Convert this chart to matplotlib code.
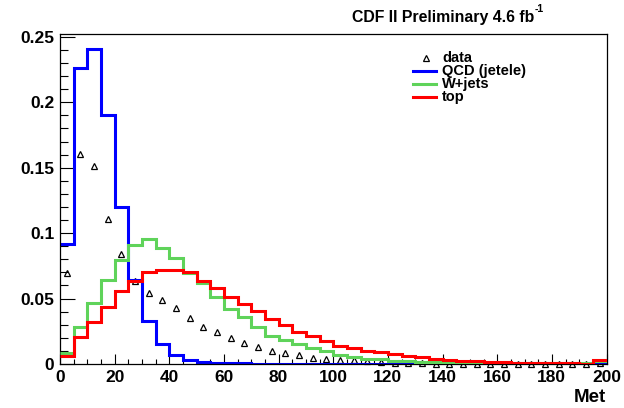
import matplotlib
matplotlib.use("Agg")
import matplotlib.pyplot as plt
import numpy as np
from matplotlib.lines import Line2D
from matplotlib.ticker import MultipleLocator

# 40 bins of width 5 GeV, 0..200
edges = np.arange(0, 205, 5)
centers = edges[:-1] + 2.5

qcd = [0.092, 0.226, 0.241, 0.190, 0.120, 0.064, 0.033, 0.0153, 0.0065, 0.0027,
       0.0013, 0.0008, 0.0005, 0.0004, 0.0003, 0.0003, 0.0002, 0.0002, 0.0002, 0.0002,
       0.0001, 0.0001, 0.0001, 0.0001, 0.0001, 0.0001, 0.0001, 0.0001, 0.0001, 0.0001,
       0.0001, 0.0001, 0.0001, 0.0001, 0.0001, 0.0001, 0.0001, 0.0001, 0.0001, 0.0005]

wjets = [0.0081, 0.0285, 0.0463, 0.0645, 0.0795, 0.0912, 0.0956, 0.0887, 0.081, 0.0693,
         0.0617, 0.0515, 0.042, 0.0357, 0.0285, 0.0216, 0.0183, 0.0150, 0.0125, 0.0097,
         0.0068, 0.0053, 0.0042, 0.0035, 0.0025, 0.0022, 0.0018, 0.0016, 0.0014, 0.0012,
         0.0011, 0.0010, 0.0009, 0.0005, 0.0005, 0.0005, 0.0005, 0.0005, 0.0004, 0.0022]

top = [0.0060, 0.0203, 0.0318, 0.0438, 0.0555, 0.0637, 0.0700, 0.0722, 0.0715, 0.0700,
       0.0635, 0.0584, 0.0510, 0.0458, 0.0405, 0.0344, 0.0300, 0.0246, 0.0216, 0.0178,
       0.0140, 0.0124, 0.0102, 0.0092, 0.0073, 0.0060, 0.0050, 0.0042, 0.0033, 0.0024,
       0.0021, 0.0014, 0.0013, 0.0006, 0.0006, 0.0006, 0.0006, 0.0006, 0.0001, 0.0034]

data = [0.0693, 0.1605, 0.1516, 0.1110, 0.0841, 0.0632, 0.0540, 0.0489, 0.0430, 0.0354,
        0.0280, 0.0242, 0.0201, 0.0158, 0.0132, 0.0102, 0.0081, 0.0071, 0.0046, 0.0035,
        0.0031, 0.0030, 0.0026, 0.0014, 0.0010, 0.0007, 0.0004, 0.0002, 0.0002, 0.0002,
        0.0002, 0.0002, 0.0002, 0.0002, 0.0002, 0.0002, 0.0002, 0.0002, 0.0002, 0.0004]

labels = ["data", "QCD (jetele)", "W+jets", "top"]
BLUE = "#0000ff"
GREEN = "#5fd35a"
RED = "#ff0000"

W, H = 624, 408
plt.rcParams["font.family"] = ["Liberation Sans", "DejaVu Sans"]
plt.rcParams["font.weight"] = "bold"

fig = plt.figure(figsize=(W / 100, H / 100), dpi=100)
ax = fig.add_axes([60 / W, 1 - 364 / H, 546.5 / W, 330 / H])

ax.plot(centers, data, ls="none", marker="^", ms=4.5, mew=0.9, mec="black",
        mfc="white", clip_on=False, zorder=1)
ax.stairs(qcd, edges, color=BLUE, lw=2.2, baseline=None, zorder=2)
ax.stairs(wjets, edges, color=GREEN, lw=2.2, baseline=None, zorder=3)
ax.stairs(top, edges, color=RED, lw=2.2, baseline=None, zorder=4)

ax.set_xlim(0, 200)
ax.set_ylim(0, 0.2522)
ax.xaxis.set_major_locator(MultipleLocator(20))
ax.xaxis.set_minor_locator(MultipleLocator(5))
ax.yaxis.set_major_locator(MultipleLocator(0.05))
ax.yaxis.set_minor_locator(MultipleLocator(0.01))
ax.yaxis.set_major_formatter(lambda v, p: "0" if v == 0 else f"{v:g}")
ax.tick_params(which="both", direction="in", top=False, right=False, width=0.8,
               labelsize=12.5)
ax.tick_params(axis="x", which="major", length=7.5, pad=4)
ax.tick_params(axis="x", which="minor", length=3.8)
ax.tick_params(axis="y", which="major", length=11, pad=4)
ax.tick_params(axis="y", which="minor", length=5.5)
for s in ax.spines.values():
    s.set_linewidth(0.9)

fig.text(606 / W, 1 - 398 / H, "Met", ha="right", va="center", fontsize=13.5)

# title with superscript placed right after the text
title = fig.text(352 / W, 1 - 22 / H, "CDF II Preliminary 4.6 fb", ha="left",
                 va="baseline", fontsize=11.4)
ax.annotate("-1", xy=(1, 0.72), xycoords=title, xytext=(0.5, 0),
            textcoords="offset points", ha="left", va="bottom", fontsize=7.5,
            annotation_clip=False)

# legend drawn by hand (rows packed tightly like the original)
base_y = [62.0, 75.0, 88.0, 101.0]
for i, lab in enumerate(labels):
    yb = base_y[i]
    yl = 1 - (yb - 4.5) / H
    if i == 0:
        fig.add_artist(Line2D([426 / W], [yl], ls="none", marker="^", ms=4,
                              mew=0.9, mec="black", mfc="white"))
    else:
        c = [BLUE, GREEN, RED][i - 1]
        fig.add_artist(Line2D([413 / W, 436 / W], [yl, yl], color=c, lw=2.2))
    fig.text(442 / W, 1 - yb / H, lab, ha="left", va="baseline", fontsize=10.5)

fig.savefig("out.png", dpi=100)
